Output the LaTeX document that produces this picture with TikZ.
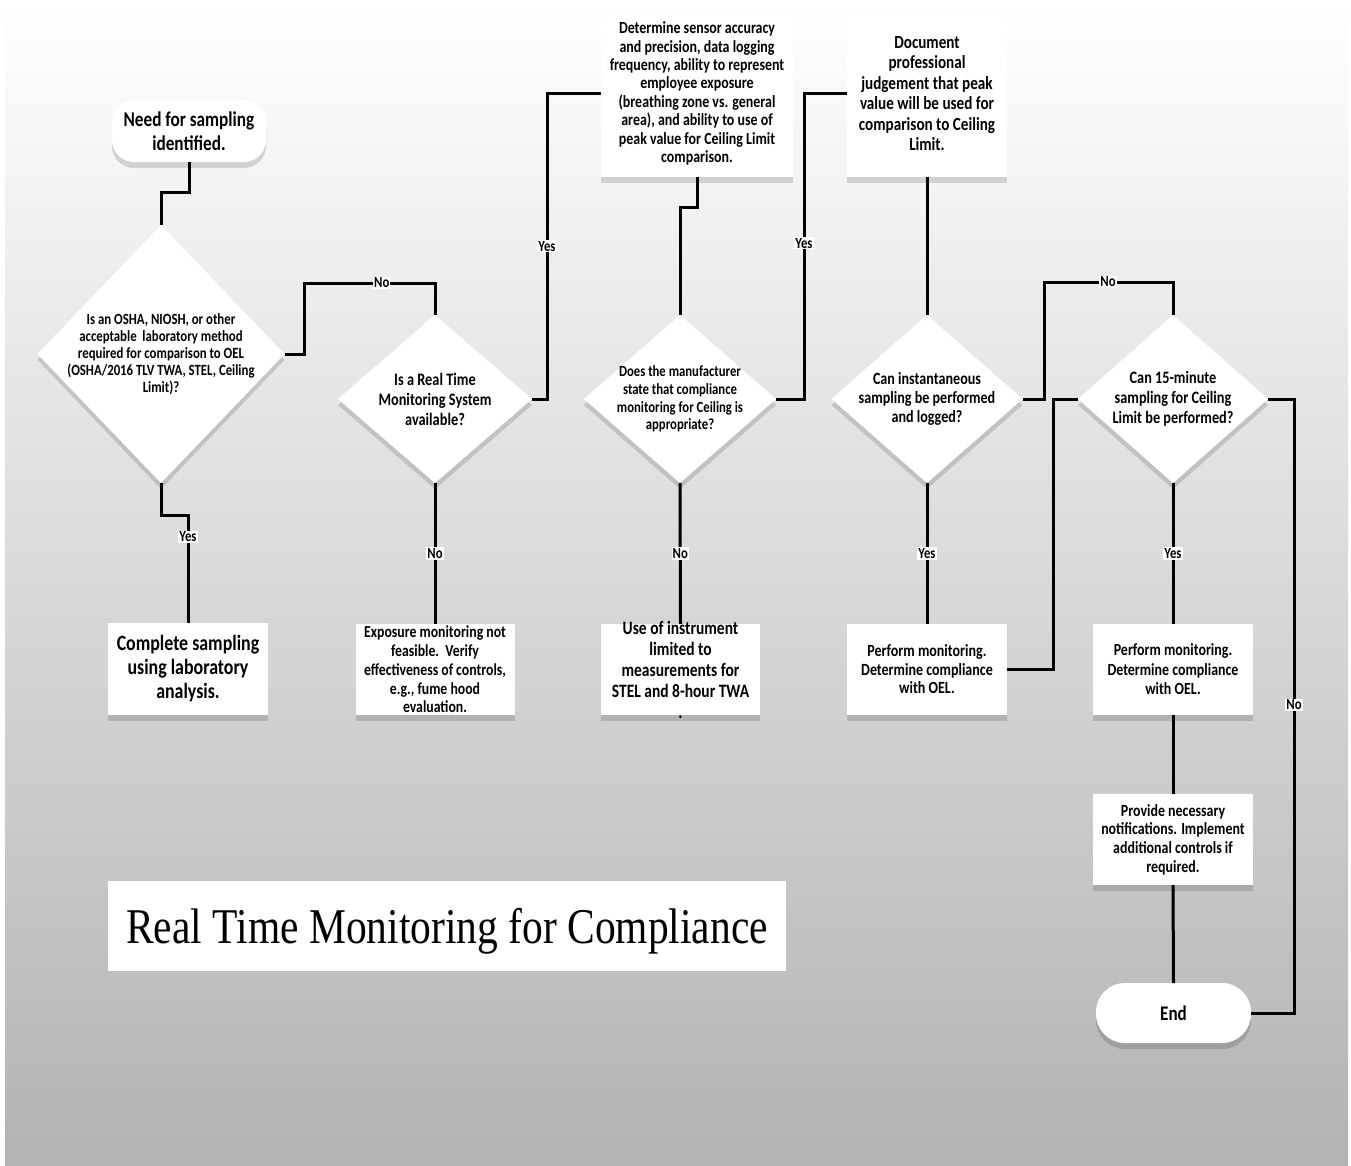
\documentclass[tikz,border=0pt]{standalone}
\usepackage{fontspec}
\setmainfont{Carlito}[FakeStretch=0.82]
\newfontfamily\titlefont{Liberation Serif}[FakeStretch=0.83]
\usetikzlibrary{shapes.geometric,shadows}
\newcommand{\fsz}[2]{\fontsize{#1}{#2}\selectfont\bfseries}
\definecolor{bgmid}{gray}{0.86}
\definecolor{bgbot}{gray}{0.70}

\begin{document}
\begin{tikzpicture}[x=1pt, y=-1pt,
    shade box/.style={drop shadow={shadow xshift=0pt, shadow yshift=-6pt, fill=black, opacity=0.14}},
    box/.style={rectangle, fill=white, inner sep=0pt, outer sep=0pt, align=center, shade box},
    terminal/.style={box, rounded corners=#1},
    decision/.style={diamond, fill=white, inner sep=0pt, outer sep=0pt, shade box},
    qtext/.style={align=center, inner sep=0pt},
    titlebox/.style={rectangle, fill=white, inner sep=0pt, text depth=0pt},
    lab/.style={fill=white, inner sep=1pt, font=\fsz{15.5}{16}},
    link/.style={line width=3pt}]

    % 背景
    \fill[white] (0,0) rectangle (1351,1165);
    \useasboundingbox (0,0) rectangle (1351,1165);
    \shade[top color=white, middle color=bgmid, bottom color=bgbot] (5,0) rectangle (1348,1165);

    % 开始
    \node[terminal=22pt, minimum width=154pt, minimum height=62pt, font=\fsz{21}{24}] (start) at (189,131) {Need for sampling\\identified.};

    % 判断框
    \node[decision, minimum width=247pt, minimum height=258pt] (d1) at (161,354) {};
    \node[qtext, font=\fsz{15.6}{17}] (d1t) at (d1) {Is an OSHA, NIOSH, or other\\acceptable\ \ laboratory method\\required for comparison to OEL\\(OSHA/2016 TLV TWA, STEL, Ceiling\\Limit)?};
    \node[decision, minimum width=194pt, minimum height=168pt] (d2) at (435,399) {};
    \node[qtext, font=\fsz{17.5}{20}] (d2t) at (d2) {Is a Real Time\\Monitoring System\\available?};
    \node[decision, minimum width=192pt, minimum height=168pt] (d3) at (680,399) {};
    \node[qtext, font=\fsz{15.5}{17.7}] (d3t) at (d3) {Does the manufacturer\\state that compliance\\monitoring for Ceiling is\\appropriate?};
    \node[decision, minimum width=191pt, minimum height=168pt] (d4) at (927,399) {};
    \node[qtext, font=\fsz{17.2}{19}] (d4t) at (d4) {Can instantaneous\\sampling be performed\\and logged?};
    \node[decision, minimum width=190pt, minimum height=168pt] (d5) at (1173,399) {};
    \node[qtext, font=\fsz{17.4}{20}] (d5t) at (d5) {Can 15-minute\\sampling for Ceiling\\Limit be performed?};

    % 处理框
    \node[box, minimum width=160pt, minimum height=92pt, font=\fsz{21.8}{24}] (b1) at (188,669) {Complete sampling\\using laboratory\\analysis.};
    \node[box, minimum width=159pt, minimum height=91pt, font=\fsz{16.8}{18.7}] (b2) at (435,669.5) {Exposure monitoring not\\feasible.\ \ Verify\\effectiveness of controls,\\e.g., fume hood\\evaluation.};
    \node[box, minimum width=192pt, minimum height=167pt, font=\fsz{17}{18.4}] (b3) at (697,93.5) {Determine sensor accuracy\\and precision, data logging\\frequency, ability to represent\\employee exposure\\(breathing zone vs. general\\area), and ability to use of\\peak value for Ceiling Limit\\comparison.};
    \node[box, minimum width=160pt, minimum height=167pt, font=\fsz{18.5}{20.4}] (b4) at (927,93.5) {Document\\professional\\judgement that peak\\value will be used for\\comparison to Ceiling\\Limit.};
    \node[box, minimum width=159pt, minimum height=91pt] (b5) at (680.5,669.5) {};
    \node[qtext, font=\fsz{18.9}{21}] (b5t) at (b5) {Use of instrument\\limited to\\measurements for\\STEL and 8-hour TWA\\.};
    \node[box, minimum width=160pt, minimum height=91pt, font=\fsz{17.1}{18.5}] (b6) at (927,669.5) {Perform monitoring.\\Determine compliance\\with OEL.};
    \node[box, minimum width=160pt, minimum height=91pt, font=\fsz{17}{19.5}] (b7) at (1173,669.5) {Perform monitoring.\\Determine compliance\\with OEL.};
    \node[box, minimum width=160pt, minimum height=91pt, font=\fsz{17}{18.7}] (b8) at (1173,839.5) {Provide necessary\\notifications. Implement\\additional controls if\\required.};

    % 结束
    \node[terminal=29pt, minimum width=155pt, minimum height=60pt, font=\fsz{20.8}{24}] (end) at (1173.5,1013) {End};

    % 连线
    \draw[link] (start.south) -- ++(0,30) -| (d1.north);
    \draw[link] (d1.south) -- ++(0,32) -| (b1.north) node[lab, pos=0.6] {Yes};
    \draw[link] (d1.east) -| ++(20,-71) -| (d2.north) node[lab, pos=0.296] {No};
    \draw[link] (d2.south) -- (b2.north) node[lab, midway] {No};
    \draw[link] (d2.east) -- ++(15,0) |- (b3.west) node[lab, pos=0.25] {Yes};
    \draw[link] (b3.south) -- ++(0,30) -| (d3.north);
    \draw[link] (d3.south) -- (b5.north) node[lab, midway] {No};
    \draw[link] (d3.east) -- ++(28,0) |- (b4.west) node[lab, pos=0.255] {Yes};
    \draw[link] (b4.south) -- (d4.north);
    \draw[link] (d4.south) -- (b6.north) node[lab, midway] {Yes};
    \draw[link] (d4.east) -| ++(22,-117) -| (d5.north) node[lab, pos=0.247] {No};
    \draw[link] (b6.east) -- ++(46,0) |- (d5.west);
    \draw[link] (d5.south) -- (b7.north) node[lab, midway] {Yes};
    \draw[link] (b7.south) -- (b8.north);
    \draw[link] (b8.south) -- (end.north);
    \draw[link] (d5.east) -- ++(26,0) |- (end.east) node[lab, pos=0.249] {No};

    % 标题
    \node[titlebox, minimum width=678pt, minimum height=90pt, font=\titlefont\fontsize{50}{52}\selectfont] (title) at (447,926) {Real Time Monitoring for Compliance};

\end{tikzpicture}
\end{document}
